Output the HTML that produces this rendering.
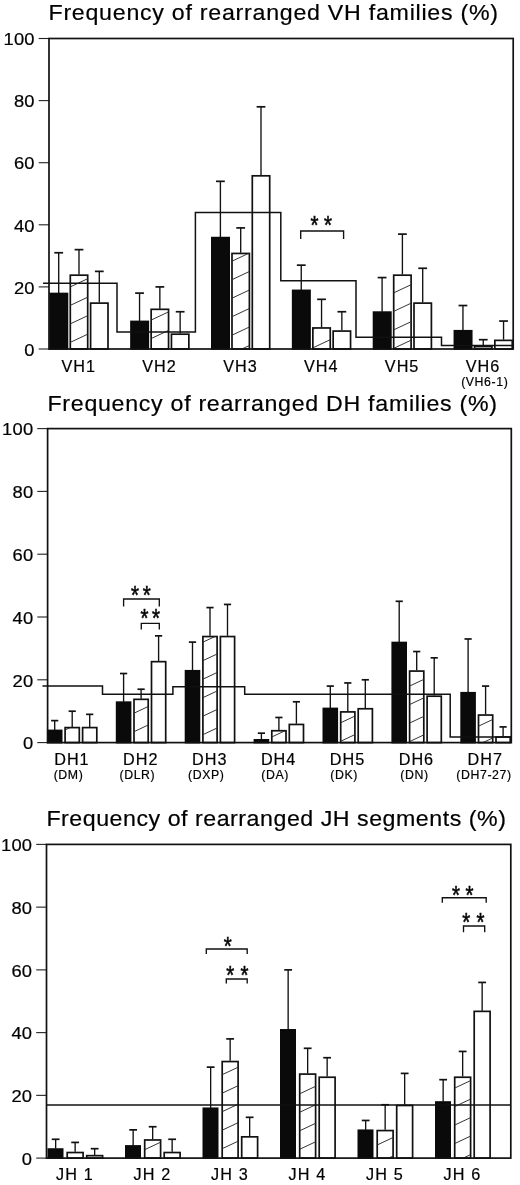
<!DOCTYPE html>
<html lang="en">
<head>
<meta charset="utf-8">
<title>Frequency of rearranged VH, DH and JH gene segments</title>
<style>
html,body{margin:0;padding:0;background:#fff;}
body{width:520px;height:1185px;overflow:hidden;}
svg{display:block;filter:blur(0.3px);}
text{font-family:"Liberation Sans", Arial, Helvetica, sans-serif;fill:#000;stroke:#000;stroke-width:0.2px;}
.t{font-size:22.3px;}
.y{font-size:17px;text-anchor:end;letter-spacing:0.2px;}
.l{font-size:16.2px;text-anchor:middle;}
.s{font-size:12.3px;text-anchor:middle;letter-spacing:0.6px;}
.a{font-size:20.5px;text-anchor:middle;stroke:#111;stroke-width:0.5px;}
.ax{fill:none;stroke:#111;stroke-width:1.7;}
.tk{fill:none;stroke:#222;stroke-width:1.1;}
.st{fill:none;stroke:#111;stroke-width:1.5;}
.bk{fill:#0a0a0a;stroke:#0a0a0a;stroke-width:1.7;}
.wh{fill:#fff;stroke:#111;stroke-width:1.7;}
.h{stroke:#2a2a2a;stroke-width:0.95;fill:none;}
.e{stroke:#111;stroke-width:1.35;fill:none;}
.c{stroke:#111;stroke-width:1.7;fill:none;}
.br{stroke:#111;stroke-width:1.35;fill:none;}
</style>
</head>
<body>
<svg width="520" height="1185" viewBox="0 0 520 1185">
<rect x="0" y="0" width="520" height="1185" fill="#fff"/>
<g id="panel1">
<text class="t" transform="translate(48.5 20.4) scale(1.04 1)" textLength="432.21" lengthAdjust="spacing">Frequency of rearranged VH families (%)</text>
<line class="tk" x1="38.7" y1="349" x2="49" y2="349"/>
<text class="y" transform="translate(34.8 355.7) scale(1.08 1)">0</text>
<line class="tk" x1="38.7" y1="286.9" x2="49" y2="286.9"/>
<text class="y" transform="translate(34.8 293.6) scale(1.08 1)">20</text>
<line class="tk" x1="38.7" y1="224.8" x2="49" y2="224.8"/>
<text class="y" transform="translate(34.8 231.5) scale(1.08 1)">40</text>
<line class="tk" x1="38.7" y1="162.7" x2="49" y2="162.7"/>
<text class="y" transform="translate(34.8 169.4) scale(1.08 1)">60</text>
<line class="tk" x1="38.7" y1="100.6" x2="49" y2="100.6"/>
<text class="y" transform="translate(34.8 107.3) scale(1.08 1)">80</text>
<line class="tk" x1="38.7" y1="38.5" x2="49" y2="38.5"/>
<text class="y" transform="translate(34.8 45.2) scale(1.08 1)">100</text>
<line class="e" x1="58.7" y1="252.75" x2="58.7" y2="293.11"/>
<line class="c" x1="54.3" y1="252.75" x2="63.1" y2="252.75"/>
<rect class="bk" x="50.15" y="293.51" width="17.3" height="55.49"/>
<line class="e" x1="79" y1="249.64" x2="79" y2="274.48"/>
<line class="c" x1="74.6" y1="249.64" x2="83.4" y2="249.64"/>
<rect class="wh" x="70.3" y="275.18" width="17.4" height="73.82"/>
<clipPath id="k1"><rect x="70.35" y="275.23" width="17.3" height="73.77"/></clipPath>
<path class="h" clip-path="url(#k1)" d="M69.6 342.7L88.4 333.86M69.6 324.2L88.4 315.36M69.6 305.7L88.4 296.86M69.6 287.2L88.4 278.36M69.6 268.7L88.4 259.86M69.6 361.2L88.4 352.36"/>
<line class="e" x1="99.3" y1="271.38" x2="99.3" y2="302.43"/>
<line class="c" x1="94.9" y1="271.38" x2="103.7" y2="271.38"/>
<rect class="wh" x="90.6" y="303.12" width="17.4" height="45.87"/>
<line class="e" x1="139.55" y1="293.11" x2="139.55" y2="321.06"/>
<line class="c" x1="135.15" y1="293.11" x2="143.95" y2="293.11"/>
<rect class="bk" x="131" y="321.45" width="17.3" height="27.54"/>
<line class="e" x1="159.85" y1="286.9" x2="159.85" y2="308.63"/>
<line class="c" x1="155.45" y1="286.9" x2="164.25" y2="286.9"/>
<rect class="wh" x="151.15" y="309.33" width="17.4" height="39.67"/>
<clipPath id="k2"><rect x="151.2" y="309.38" width="17.3" height="39.62"/></clipPath>
<path class="h" clip-path="url(#k2)" d="M150.45 338.9L169.25 330.06M150.45 320.4L169.25 311.56M150.45 301.9L169.25 293.06M150.45 357.4L169.25 348.56"/>
<line class="e" x1="180.15" y1="311.74" x2="180.15" y2="333.48"/>
<line class="c" x1="175.75" y1="311.74" x2="184.55" y2="311.74"/>
<rect class="wh" x="171.45" y="334.18" width="17.4" height="14.82"/>
<line class="e" x1="220.4" y1="181.33" x2="220.4" y2="237.22"/>
<line class="c" x1="216" y1="181.33" x2="224.8" y2="181.33"/>
<rect class="bk" x="211.85" y="237.62" width="17.3" height="111.38"/>
<line class="e" x1="240.7" y1="227.91" x2="240.7" y2="252.75"/>
<line class="c" x1="236.3" y1="227.91" x2="245.1" y2="227.91"/>
<rect class="wh" x="232" y="253.44" width="17.4" height="95.55"/>
<clipPath id="k3"><rect x="232.05" y="253.5" width="17.3" height="95.5"/></clipPath>
<path class="h" clip-path="url(#k3)" d="M231.3 335.5L250.1 326.66M231.3 317L250.1 308.16M231.3 298.5L250.1 289.66M231.3 280L250.1 271.16M231.3 261.5L250.1 252.66M231.3 243L250.1 234.16M231.3 354L250.1 345.16"/>
<line class="e" x1="261" y1="106.81" x2="261" y2="175.12"/>
<line class="c" x1="256.6" y1="106.81" x2="265.4" y2="106.81"/>
<rect class="wh" x="252.3" y="175.82" width="17.4" height="173.18"/>
<line class="e" x1="301.25" y1="265.17" x2="301.25" y2="290"/>
<line class="c" x1="296.85" y1="265.17" x2="305.65" y2="265.17"/>
<rect class="bk" x="292.7" y="290.4" width="17.3" height="58.6"/>
<line class="e" x1="321.55" y1="299.32" x2="321.55" y2="327.26"/>
<line class="c" x1="317.15" y1="299.32" x2="325.95" y2="299.32"/>
<rect class="wh" x="312.85" y="327.96" width="17.4" height="21.04"/>
<clipPath id="k4"><rect x="312.9" y="328.01" width="17.3" height="20.99"/></clipPath>
<path class="h" clip-path="url(#k4)" d="M312.15 348.2L330.95 339.36M312.15 329.7L330.95 320.86M312.15 366.7L330.95 357.86"/>
<line class="e" x1="341.85" y1="311.74" x2="341.85" y2="330.37"/>
<line class="c" x1="337.45" y1="311.74" x2="346.25" y2="311.74"/>
<rect class="wh" x="333.15" y="331.07" width="17.4" height="17.93"/>
<line class="e" x1="382.1" y1="277.58" x2="382.1" y2="311.74"/>
<line class="c" x1="377.7" y1="277.58" x2="386.5" y2="277.58"/>
<rect class="bk" x="373.55" y="312.14" width="17.3" height="36.86"/>
<line class="e" x1="402.4" y1="234.12" x2="402.4" y2="274.48"/>
<line class="c" x1="398" y1="234.12" x2="406.8" y2="234.12"/>
<rect class="wh" x="393.7" y="275.18" width="17.4" height="73.82"/>
<clipPath id="k5"><rect x="393.75" y="275.23" width="17.3" height="73.77"/></clipPath>
<path class="h" clip-path="url(#k5)" d="M393 348.7L411.8 339.86M393 330.2L411.8 321.36M393 311.7L411.8 302.86M393 293.2L411.8 284.36M393 274.7L411.8 265.86M393 367.2L411.8 358.36"/>
<line class="e" x1="422.7" y1="268.27" x2="422.7" y2="302.43"/>
<line class="c" x1="418.3" y1="268.27" x2="427.1" y2="268.27"/>
<rect class="wh" x="414" y="303.12" width="17.4" height="45.87"/>
<line class="e" x1="462.95" y1="305.53" x2="462.95" y2="330.37"/>
<line class="c" x1="458.55" y1="305.53" x2="467.35" y2="305.53"/>
<rect class="bk" x="454.4" y="330.77" width="17.3" height="18.23"/>
<line class="e" x1="483.25" y1="339.69" x2="483.25" y2="345.89"/>
<line class="c" x1="478.85" y1="339.69" x2="487.65" y2="339.69"/>
<rect class="wh" x="474.55" y="346.59" width="17.4" height="2.41"/>
<clipPath id="k6"><rect x="474.6" y="346.64" width="17.3" height="2.36"/></clipPath>
<path class="h" clip-path="url(#k6)" d="M473.85 340.7L492.65 331.86M473.85 359.2L492.65 350.36"/>
<line class="e" x1="503.55" y1="321.06" x2="503.55" y2="339.69"/>
<line class="c" x1="499.15" y1="321.06" x2="507.95" y2="321.06"/>
<rect class="wh" x="494.85" y="340.38" width="17.4" height="8.61"/>
<polyline class="st" points="43,283.17 117,283.17 117,331.92 195.4,331.92 195.4,212.38 280.8,212.38 280.8,280.69 356,280.69 356,337.2 441.5,337.2 441.5,345.58 513.2,345.58"/>
<rect class="ax" x="49" y="38.5" width="464.2" height="310.5"/>
<path class="br" d="M300.7 238.9V231H343.6V238.9"/>
<text class="a" style="letter-spacing:5.43px" transform="translate(323.96 234.38) scale(1 1.3)">**</text>
<text class="l" style="letter-spacing:1px" x="78.7" y="371.5">VH1</text>
<text class="l" style="letter-spacing:1px" x="159.55" y="371.5">VH2</text>
<text class="l" style="letter-spacing:1px" x="240.4" y="371.5">VH3</text>
<text class="l" style="letter-spacing:1px" x="321.25" y="371.5">VH4</text>
<text class="l" style="letter-spacing:1px" x="402.1" y="371.5">VH5</text>
<text class="l" style="letter-spacing:1px" x="482.95" y="371.5">VH6</text>
<text class="s" x="484.75" y="385.7">(VH6-1)</text>
</g>
<g id="panel2">
<text class="t" transform="translate(47.5 411) scale(1.04 1)" textLength="432.21" lengthAdjust="spacing">Frequency of rearranged DH families (%)</text>
<line class="tk" x1="37.3" y1="742.6" x2="47.6" y2="742.6"/>
<text class="y" transform="translate(33.4 749.3) scale(1.08 1)">0</text>
<line class="tk" x1="37.3" y1="679.8" x2="47.6" y2="679.8"/>
<text class="y" transform="translate(33.4 686.5) scale(1.08 1)">20</text>
<line class="tk" x1="37.3" y1="617" x2="47.6" y2="617"/>
<text class="y" transform="translate(33.4 623.7) scale(1.08 1)">40</text>
<line class="tk" x1="37.3" y1="554.2" x2="47.6" y2="554.2"/>
<text class="y" transform="translate(33.4 560.9) scale(1.08 1)">60</text>
<line class="tk" x1="37.3" y1="491.4" x2="47.6" y2="491.4"/>
<text class="y" transform="translate(33.4 498.1) scale(1.08 1)">80</text>
<line class="tk" x1="37.3" y1="428.6" x2="47.6" y2="428.6"/>
<text class="y" transform="translate(33.4 435.3) scale(1.08 1)">100</text>
<line class="e" x1="54.7" y1="720.62" x2="54.7" y2="730.04"/>
<line class="c" x1="51.1" y1="720.62" x2="58.3" y2="720.62"/>
<rect class="bk" x="47.75" y="730.44" width="13.9" height="12.16"/>
<line class="e" x1="72.2" y1="711.2" x2="72.2" y2="726.9"/>
<line class="c" x1="68.6" y1="711.2" x2="75.8" y2="711.2"/>
<rect class="wh" x="65.1" y="727.6" width="14.2" height="15"/>
<clipPath id="k7"><rect x="65.15" y="727.65" width="14.1" height="14.95"/></clipPath>
<path class="h" clip-path="url(#k7)" d="M64.4 730.3L80 722.97M64.4 748.8L80 741.47"/>
<line class="e" x1="89.7" y1="714.34" x2="89.7" y2="726.9"/>
<line class="c" x1="86.1" y1="714.34" x2="93.3" y2="714.34"/>
<rect class="wh" x="82.6" y="727.6" width="14.2" height="15"/>
<line class="e" x1="123.6" y1="673.52" x2="123.6" y2="701.78"/>
<line class="c" x1="120" y1="673.52" x2="127.2" y2="673.52"/>
<rect class="bk" x="116.65" y="702.18" width="13.9" height="40.42"/>
<line class="e" x1="141.1" y1="689.22" x2="141.1" y2="698.64"/>
<line class="c" x1="137.5" y1="689.22" x2="144.7" y2="689.22"/>
<rect class="wh" x="134" y="699.34" width="14.2" height="43.26"/>
<clipPath id="k8"><rect x="134.05" y="699.39" width="14.1" height="43.21"/></clipPath>
<path class="h" clip-path="url(#k8)" d="M133.3 732L148.9 724.67M133.3 713.5L148.9 706.17M133.3 695L148.9 687.67M133.3 750.5L148.9 743.17"/>
<line class="e" x1="158.6" y1="635.84" x2="158.6" y2="660.96"/>
<line class="c" x1="155" y1="635.84" x2="162.2" y2="635.84"/>
<rect class="wh" x="151.5" y="661.66" width="14.2" height="80.94"/>
<line class="e" x1="192.5" y1="642.12" x2="192.5" y2="670.38"/>
<line class="c" x1="188.9" y1="642.12" x2="196.1" y2="642.12"/>
<rect class="bk" x="185.55" y="670.78" width="13.9" height="71.82"/>
<line class="e" x1="210" y1="607.58" x2="210" y2="635.84"/>
<line class="c" x1="206.4" y1="607.58" x2="213.6" y2="607.58"/>
<rect class="wh" x="202.9" y="636.54" width="14.2" height="106.06"/>
<clipPath id="k9"><rect x="202.95" y="636.59" width="14.1" height="106.01"/></clipPath>
<path class="h" clip-path="url(#k9)" d="M202.2 735L217.8 727.67M202.2 716.5L217.8 709.17M202.2 698L217.8 690.67M202.2 679.5L217.8 672.17M202.2 661L217.8 653.67M202.2 642.5L217.8 635.17M202.2 753.5L217.8 746.17"/>
<line class="e" x1="227.5" y1="604.44" x2="227.5" y2="635.84"/>
<line class="c" x1="223.9" y1="604.44" x2="231.1" y2="604.44"/>
<rect class="wh" x="220.4" y="636.54" width="14.2" height="106.06"/>
<line class="e" x1="261.4" y1="733.18" x2="261.4" y2="739.46"/>
<line class="c" x1="257.8" y1="733.18" x2="265" y2="733.18"/>
<rect class="bk" x="254.45" y="739.86" width="13.9" height="2.74"/>
<line class="e" x1="278.9" y1="717.48" x2="278.9" y2="730.04"/>
<line class="c" x1="275.3" y1="717.48" x2="282.5" y2="717.48"/>
<rect class="wh" x="271.8" y="730.74" width="14.2" height="11.86"/>
<clipPath id="k10"><rect x="271.85" y="730.79" width="14.1" height="11.81"/></clipPath>
<path class="h" clip-path="url(#k10)" d="M271.1 737.3L286.7 729.97M271.1 755.8L286.7 748.47"/>
<line class="e" x1="296.4" y1="701.78" x2="296.4" y2="723.76"/>
<line class="c" x1="292.8" y1="701.78" x2="300" y2="701.78"/>
<rect class="wh" x="289.3" y="724.46" width="14.2" height="18.14"/>
<line class="e" x1="330.3" y1="686.08" x2="330.3" y2="708.06"/>
<line class="c" x1="326.7" y1="686.08" x2="333.9" y2="686.08"/>
<rect class="bk" x="323.35" y="708.46" width="13.9" height="34.14"/>
<line class="e" x1="347.8" y1="682.94" x2="347.8" y2="711.2"/>
<line class="c" x1="344.2" y1="682.94" x2="351.4" y2="682.94"/>
<rect class="wh" x="340.7" y="711.9" width="14.2" height="30.7"/>
<clipPath id="k11"><rect x="340.75" y="711.95" width="14.1" height="30.65"/></clipPath>
<path class="h" clip-path="url(#k11)" d="M340 741.6L355.6 734.27M340 723.1L355.6 715.77M340 704.6L355.6 697.27M340 760.1L355.6 752.77"/>
<line class="e" x1="365.3" y1="679.8" x2="365.3" y2="708.06"/>
<line class="c" x1="361.7" y1="679.8" x2="368.9" y2="679.8"/>
<rect class="wh" x="358.2" y="708.76" width="14.2" height="33.84"/>
<line class="e" x1="399.2" y1="601.3" x2="399.2" y2="642.12"/>
<line class="c" x1="395.6" y1="601.3" x2="402.8" y2="601.3"/>
<rect class="bk" x="392.25" y="642.52" width="13.9" height="100.08"/>
<line class="e" x1="416.7" y1="651.54" x2="416.7" y2="670.38"/>
<line class="c" x1="413.1" y1="651.54" x2="420.3" y2="651.54"/>
<rect class="wh" x="409.6" y="671.08" width="14.2" height="71.52"/>
<clipPath id="k12"><rect x="409.65" y="671.13" width="14.1" height="71.47"/></clipPath>
<path class="h" clip-path="url(#k12)" d="M408.9 741.9L424.5 734.57M408.9 723.4L424.5 716.07M408.9 704.9L424.5 697.57M408.9 686.4L424.5 679.07M408.9 667.9L424.5 660.57M408.9 760.4L424.5 753.07"/>
<line class="e" x1="434.2" y1="657.82" x2="434.2" y2="695.5"/>
<line class="c" x1="430.6" y1="657.82" x2="437.8" y2="657.82"/>
<rect class="wh" x="427.1" y="696.2" width="14.2" height="46.4"/>
<line class="e" x1="468.1" y1="638.98" x2="468.1" y2="692.36"/>
<line class="c" x1="464.5" y1="638.98" x2="471.7" y2="638.98"/>
<rect class="bk" x="461.15" y="692.76" width="13.9" height="49.84"/>
<line class="e" x1="485.6" y1="686.08" x2="485.6" y2="714.34"/>
<line class="c" x1="482" y1="686.08" x2="489.2" y2="686.08"/>
<rect class="wh" x="478.5" y="715.04" width="14.2" height="27.56"/>
<clipPath id="k13"><rect x="478.55" y="715.09" width="14.1" height="27.51"/></clipPath>
<path class="h" clip-path="url(#k13)" d="M477.8 726.5L493.4 719.17M477.8 708L493.4 700.67M477.8 745L493.4 737.67"/>
<line class="e" x1="503.1" y1="726.9" x2="503.1" y2="736.32"/>
<line class="c" x1="499.5" y1="726.9" x2="506.7" y2="726.9"/>
<rect class="wh" x="496" y="737.02" width="14.2" height="5.58"/>
<polyline class="st" points="42.5,686.08 102.5,686.08 102.5,694.24 172.9,694.24 172.9,686.71 244.7,686.71 244.7,694.24 450.2,694.24 450.2,737.11 511.3,737.11"/>
<rect class="ax" x="47.6" y="428.6" width="463.7" height="314"/>
<path class="br" d="M123.6 606.4V599H159.3V606.4"/>
<text class="a" style="letter-spacing:3.78px" transform="translate(142.69 604.33) scale(1 1.3)">**</text>
<path class="br" d="M141.3 629.4V623.4H159.3V629.4"/>
<text class="a" style="letter-spacing:3.43px" transform="translate(151.91 627.23) scale(1 1.3)">**</text>
<text class="l" style="letter-spacing:1px" x="71.9" y="765.3">DH1</text>
<text class="s" x="68.5" y="779.2">(DM)</text>
<text class="l" style="letter-spacing:1px" x="140.8" y="765.3">DH2</text>
<text class="s" x="137.4" y="779.2">(DLR)</text>
<text class="l" style="letter-spacing:1px" x="209.7" y="765.3">DH3</text>
<text class="s" x="206.3" y="779.2">(DXP)</text>
<text class="l" style="letter-spacing:1px" x="278.6" y="765.3">DH4</text>
<text class="s" x="275.2" y="779.2">(DA)</text>
<text class="l" style="letter-spacing:1px" x="347.5" y="765.3">DH5</text>
<text class="s" x="344.1" y="779.2">(DK)</text>
<text class="l" style="letter-spacing:1px" x="416.4" y="765.3">DH6</text>
<text class="s" x="414.5" y="779.2">(DN)</text>
<text class="l" style="letter-spacing:1px" x="485.3" y="765.3">DH7</text>
<text class="s" x="484" y="779.2">(DH7-27)</text>
</g>
<g id="panel3">
<text class="t" transform="translate(46.4 826.3) scale(1.04 1)" textLength="441.83" lengthAdjust="spacing">Frequency of rearranged JH segments (%)</text>
<line class="tk" x1="36.2" y1="1158.1" x2="46.5" y2="1158.1"/>
<text class="y" transform="translate(32.3 1164.8) scale(1.08 1)">0</text>
<line class="tk" x1="36.2" y1="1095.36" x2="46.5" y2="1095.36"/>
<text class="y" transform="translate(32.3 1102.06) scale(1.08 1)">20</text>
<line class="tk" x1="36.2" y1="1032.62" x2="46.5" y2="1032.62"/>
<text class="y" transform="translate(32.3 1039.32) scale(1.08 1)">40</text>
<line class="tk" x1="36.2" y1="969.88" x2="46.5" y2="969.88"/>
<text class="y" transform="translate(32.3 976.58) scale(1.08 1)">60</text>
<line class="tk" x1="36.2" y1="907.14" x2="46.5" y2="907.14"/>
<text class="y" transform="translate(32.3 913.84) scale(1.08 1)">80</text>
<line class="tk" x1="36.2" y1="844.4" x2="46.5" y2="844.4"/>
<text class="y" transform="translate(32.3 851.1) scale(1.08 1)">100</text>
<line class="e" x1="55.65" y1="1139.28" x2="55.65" y2="1148.69"/>
<line class="c" x1="51.75" y1="1139.28" x2="59.55" y2="1139.28"/>
<rect class="bk" x="48.35" y="1149.09" width="14.3" height="9.01"/>
<line class="e" x1="75.15" y1="1142.41" x2="75.15" y2="1151.83"/>
<line class="c" x1="71.25" y1="1142.41" x2="79.05" y2="1142.41"/>
<rect class="wh" x="67.2" y="1152.53" width="15.9" height="5.57"/>
<clipPath id="k14"><rect x="67.25" y="1152.58" width="15.8" height="5.52"/></clipPath>
<path class="h" clip-path="url(#k14)" d="M66.5 1149.8L83.8 1141.67M66.5 1168.3L83.8 1160.17"/>
<line class="e" x1="94.65" y1="1148.69" x2="94.65" y2="1154.96"/>
<line class="c" x1="90.75" y1="1148.69" x2="98.55" y2="1148.69"/>
<rect class="wh" x="86.7" y="1155.66" width="15.9" height="2.44"/>
<line class="e" x1="133.15" y1="1129.87" x2="133.15" y2="1145.55"/>
<line class="c" x1="129.25" y1="1129.87" x2="137.05" y2="1129.87"/>
<rect class="bk" x="125.85" y="1145.95" width="14.3" height="12.15"/>
<line class="e" x1="152.65" y1="1126.73" x2="152.65" y2="1139.28"/>
<line class="c" x1="148.75" y1="1126.73" x2="156.55" y2="1126.73"/>
<rect class="wh" x="144.7" y="1139.98" width="15.9" height="18.12"/>
<clipPath id="k15"><rect x="144.75" y="1140.03" width="15.8" height="18.07"/></clipPath>
<path class="h" clip-path="url(#k15)" d="M144 1150L161.3 1141.87M144 1131.5L161.3 1123.37M144 1168.5L161.3 1160.37"/>
<line class="e" x1="172.15" y1="1139.28" x2="172.15" y2="1151.83"/>
<line class="c" x1="168.25" y1="1139.28" x2="176.05" y2="1139.28"/>
<rect class="wh" x="164.2" y="1152.53" width="15.9" height="5.57"/>
<line class="e" x1="210.65" y1="1067.13" x2="210.65" y2="1107.91"/>
<line class="c" x1="206.75" y1="1067.13" x2="214.55" y2="1067.13"/>
<rect class="bk" x="203.35" y="1108.31" width="14.3" height="49.79"/>
<line class="e" x1="230.15" y1="1038.89" x2="230.15" y2="1060.85"/>
<line class="c" x1="226.25" y1="1038.89" x2="234.05" y2="1038.89"/>
<rect class="wh" x="222.2" y="1061.55" width="15.9" height="96.55"/>
<clipPath id="k16"><rect x="222.25" y="1061.6" width="15.8" height="96.5"/></clipPath>
<path class="h" clip-path="url(#k16)" d="M221.5 1149L238.8 1140.87M221.5 1130.5L238.8 1122.37M221.5 1112L238.8 1103.87M221.5 1093.5L238.8 1085.37M221.5 1075L238.8 1066.87M221.5 1056.5L238.8 1048.37M221.5 1167.5L238.8 1159.37"/>
<line class="e" x1="249.65" y1="1117.32" x2="249.65" y2="1136.14"/>
<line class="c" x1="245.75" y1="1117.32" x2="253.55" y2="1117.32"/>
<rect class="wh" x="241.7" y="1136.84" width="15.9" height="21.26"/>
<line class="e" x1="288.15" y1="969.88" x2="288.15" y2="1029.48"/>
<line class="c" x1="284.25" y1="969.88" x2="292.05" y2="969.88"/>
<rect class="bk" x="280.85" y="1029.88" width="14.3" height="128.22"/>
<line class="e" x1="307.65" y1="1048.3" x2="307.65" y2="1073.4"/>
<line class="c" x1="303.75" y1="1048.3" x2="311.55" y2="1048.3"/>
<rect class="wh" x="299.7" y="1074.1" width="15.9" height="84"/>
<clipPath id="k17"><rect x="299.75" y="1074.15" width="15.8" height="83.95"/></clipPath>
<path class="h" clip-path="url(#k17)" d="M299 1149.6L316.3 1141.47M299 1131.1L316.3 1122.97M299 1112.6L316.3 1104.47M299 1094.1L316.3 1085.97M299 1075.6L316.3 1067.47M299 1168.1L316.3 1159.97"/>
<line class="e" x1="327.15" y1="1057.72" x2="327.15" y2="1076.54"/>
<line class="c" x1="323.25" y1="1057.72" x2="331.05" y2="1057.72"/>
<rect class="wh" x="319.2" y="1077.24" width="15.9" height="80.86"/>
<line class="e" x1="365.65" y1="1120.46" x2="365.65" y2="1129.87"/>
<line class="c" x1="361.75" y1="1120.46" x2="369.55" y2="1120.46"/>
<rect class="bk" x="358.35" y="1130.27" width="14.3" height="27.83"/>
<line class="e" x1="385.15" y1="1104.77" x2="385.15" y2="1129.87"/>
<line class="c" x1="381.25" y1="1104.77" x2="389.05" y2="1104.77"/>
<rect class="wh" x="377.2" y="1130.57" width="15.9" height="27.53"/>
<clipPath id="k18"><rect x="377.25" y="1130.62" width="15.8" height="27.48"/></clipPath>
<path class="h" clip-path="url(#k18)" d="M376.5 1145.3L393.8 1137.17M376.5 1126.8L393.8 1118.67M376.5 1163.8L393.8 1155.67"/>
<line class="e" x1="404.65" y1="1073.4" x2="404.65" y2="1104.77"/>
<line class="c" x1="400.75" y1="1073.4" x2="408.55" y2="1073.4"/>
<rect class="wh" x="396.7" y="1105.47" width="15.9" height="52.63"/>
<line class="e" x1="443.15" y1="1079.67" x2="443.15" y2="1101.63"/>
<line class="c" x1="439.25" y1="1079.67" x2="447.05" y2="1079.67"/>
<rect class="bk" x="435.85" y="1102.03" width="14.3" height="56.07"/>
<line class="e" x1="462.65" y1="1051.44" x2="462.65" y2="1076.54"/>
<line class="c" x1="458.75" y1="1051.44" x2="466.55" y2="1051.44"/>
<rect class="wh" x="454.7" y="1077.24" width="15.9" height="80.86"/>
<clipPath id="k19"><rect x="454.75" y="1077.29" width="15.8" height="80.81"/></clipPath>
<path class="h" clip-path="url(#k19)" d="M454 1143.9L471.3 1135.77M454 1125.4L471.3 1117.27M454 1106.9L471.3 1098.77M454 1088.4L471.3 1080.27M454 1069.9L471.3 1061.77M454 1162.4L471.3 1154.27"/>
<line class="e" x1="482.15" y1="982.43" x2="482.15" y2="1010.66"/>
<line class="c" x1="478.25" y1="982.43" x2="486.05" y2="982.43"/>
<rect class="wh" x="474.2" y="1011.36" width="15.9" height="146.74"/>
<polyline class="st" points="46.5,1105.08 510.8,1105.08"/>
<rect class="ax" x="46.5" y="844.4" width="464.3" height="313.7"/>
<path class="br" d="M206.3 954V949H247.2V954"/>
<text class="a" style="letter-spacing:0px" transform="translate(227.7 955.13) scale(1 1.3)">*</text>
<path class="br" d="M226.3 983.5V979H247.2V983.5"/>
<text class="a" style="letter-spacing:6.18px" transform="translate(240.39 983.88) scale(1 1.3)">**</text>
<path class="br" d="M442.3 902.75V897.75H486.2V902.75"/>
<text class="a" style="letter-spacing:5.43px" transform="translate(465.51 903.88) scale(1 1.3)">**</text>
<path class="br" d="M463.5 932.2V926H484.7V932.2"/>
<text class="a" style="letter-spacing:6.18px" transform="translate(476.49 931.03) scale(1 1.3)">**</text>
<text class="l" style="letter-spacing:1.2px" x="74.95" y="1180.2">JH 1</text>
<text class="l" style="letter-spacing:1.2px" x="152.45" y="1180.2">JH 2</text>
<text class="l" style="letter-spacing:1.2px" x="229.95" y="1180.2">JH 3</text>
<text class="l" style="letter-spacing:1.2px" x="307.45" y="1180.2">JH 4</text>
<text class="l" style="letter-spacing:1.2px" x="384.95" y="1180.2">JH 5</text>
<text class="l" style="letter-spacing:1.2px" x="462.45" y="1180.2">JH 6</text>
</g>
</svg>
</body>
</html>
